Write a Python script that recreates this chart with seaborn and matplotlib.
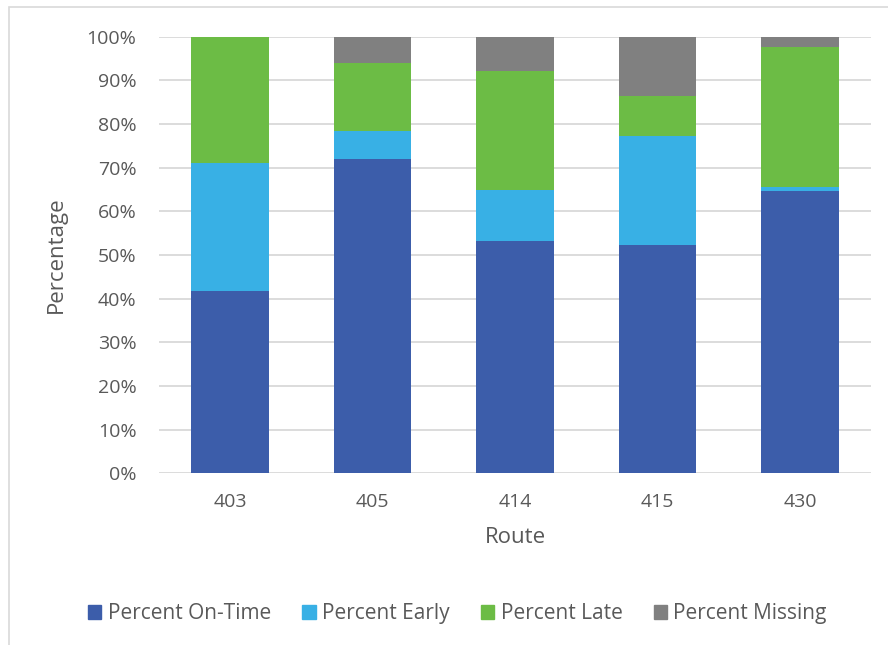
import matplotlib.pyplot as plt
import matplotlib.patches as mpatches
import numpy as np
import pandas as pd
import seaborn as sns

# datos (porcentaje por ruta)
routes = ['403', '405', '414', '415', '430']
on_time = [41.8, 72.0, 53.3, 52.3, 64.7]
early = [29.2, 6.5, 11.7, 25.0, 0.8]
late = [29.0, 15.4, 27.1, 9.1, 32.2]
missing = [0.0, 6.1, 7.9, 13.6, 2.3]

series = ['Percent On-Time', 'Percent Early', 'Percent Late', 'Percent Missing']
colors = ['#3C5DAA', '#38B0E5', '#6CBC45', '#808080']

df = pd.DataFrame({'Route': routes, series[0]: on_time, series[1]: early,
                   series[2]: late, series[3]: missing})
# alturas acumuladas para apilar
cum = df[series].cumsum(axis=1)

sns.set_style('white')
plt.rcParams['font.family'] = ['Open Sans', 'DejaVu Sans']

fig = plt.figure(figsize=(8.88, 6.45), dpi=100)
ax = fig.add_axes([0.1788, 0.2662, 0.8023, 0.6769])

# dibujar de la serie mas alta a la mas baja
for s, c in reversed(list(zip(series, colors))):
    sns.barplot(x=df['Route'], y=cum[s], color=c, width=0.547,
                saturation=1, linewidth=0, ax=ax, zorder=3)

ax.set_ylim(0, 100)
ax.set_xlim(-0.5, 4.5)
ax.set_yticks(np.arange(0, 101, 10))
ax.set_yticklabels([f'{v}%' for v in range(0, 101, 10)])
ax.grid(axis='y', color='#d9d9d9', linewidth=1.3, zorder=0)
ax.set_axisbelow(True)
for sp in ax.spines.values():
    sp.set_visible(False)
ax.tick_params(axis='both', length=0, labelsize=14, colors='#595959')
ax.tick_params(axis='y', pad=16)
ax.tick_params(axis='x', pad=14)
ax.set_xlabel('Route', fontsize=16, color='#595959', labelpad=12)
ax.set_ylabel('Percentage', fontsize=16, color='#595959', labelpad=14)

handles = [mpatches.Patch(color=c, label=s) for s, c in zip(series, colors)]
fig.legend(handles=handles, loc='center', bbox_to_anchor=(0.515, 0.049),
           ncol=4, frameon=False, fontsize=15, labelcolor='#595959',
           handlelength=0.65, handleheight=0.65, handletextpad=0.3,
           columnspacing=1.5)

# marco del grafico (sin borde inferior ni derecho visibles)
fig.add_artist(mpatches.Rectangle((9 / 888, -0.1), 1.2, 1.1 - 7 / 645,
                                  transform=fig.transFigure, fill=False,
                                  edgecolor='#d9d9d9', linewidth=1.2))

plt.savefig('out.png', dpi=100)
